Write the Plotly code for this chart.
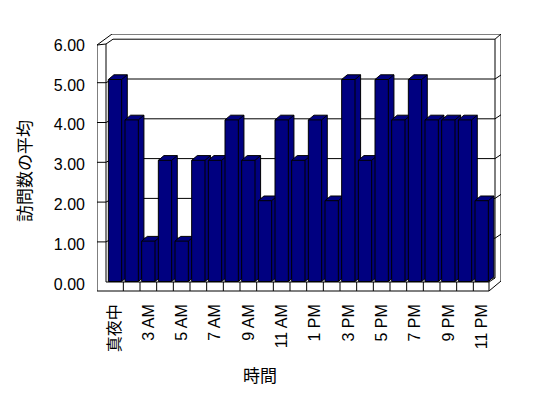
import plotly.graph_objects as go

# ---------------- data ----------------
categories = ["真夜中", "1 AM", "3 AM", "4 AM", "5 AM", "6 AM", "7 AM", "8 AM", "9 AM",
              "10 AM", "11 AM", "12 PM", "1 PM", "2 PM", "3 PM", "4 PM", "5 PM", "6 PM",
              "7 PM", "8 PM", "9 PM", "10 PM", "11 PM"]
visits = [5, 4, 1, 3, 1, 3, 3, 4, 3, 2, 4, 3, 4, 2, 5, 3, 5, 4, 5, 4, 4, 4, 2]
y_ticks = [0, 1, 2, 3, 4, 5, 6]
y_tick_labels = ["0.00", "1.00", "2.00", "3.00", "4.00", "5.00", "6.00"]
x_title = "時間"
y_title = "訪問数の平均"

# ---------------- geometry (pixels of the 548x398 canvas) ----------------
W, H = 548, 398
PL, PR, PT, PB = 97, 501, 34, 292          # plot area
X0PX, XSTEP = 115.0, 16.667                # centre of first category, px per category
Y0PX, YSTEP = 281.5, 40.4                  # pixel of value 0, px per unit


def px_x(p):
    return (p - X0PX) / XSTEP


def px_y(p):
    return (Y0PX - p) / YSTEP


NAVY = "#000080"
FONT = "Liberation Sans, Noto Sans CJK JP, sans-serif"
HW = 0.40                        # half bar width (category units)
DDX = 5.6 / XSTEP                # 3D depth offset of bars
DDY = 4.7 / YSTEP

fig = go.Figure()

# bars as 3D prisms, drawn left to right so each covers the previous side face
for i, v in enumerate(visits):
    x0, x1 = i - HW, i + HW
    xs = [x0, x0, x0 + DDX, x1 + DDX, x1 + DDX, x1, x0, None,
          x0, x1, x1, None, x1, x1 + DDX]
    ys = [0, v, v + DDY, v + DDY, DDY, 0, 0, None,
          v, v, 0, None, v, v + DDY]
    fig.add_trace(go.Scatter(x=xs, y=ys, mode="lines", fill="toself",
                             fillcolor=NAVY, line=dict(color="black", width=1),
                             hoverinfo="skip", showlegend=False))

# ---------------- walls / floor (decoration) ----------------
shapes = []


def poly(points):
    d = "M " + " L ".join(f"{px_x(a):.4f},{px_y(b):.4f}" for a, b in points)
    shapes.append(dict(type="path", path=d, xref="x", yref="y", layer="below",
                       line=dict(color="black", width=1)))


def G(v):   # back wall gridline pixel
    return 278 - 39.8 * v


def T(v):   # left wall tick pixel
    return 281.7 - 39.8 * v


# outer frame
poly([(97, 291), (97, 45), (112, 34), (501, 34), (501, 281), (489, 291), (97, 291)])
# inner edges
poly([(106, 282), (106, 44), (113, G(6)), (495, G(6)), (495, G(0)), (489, 282), (106, 282)])
poly([(97, 45), (106, 44)])
poly([(495, G(6)), (501, 34)])
poly([(489, 282), (489, 291)])
poly([(113, G(0)), (495, G(0))])
# floor cell dividers
for i in range(len(visits)):
    xp = X0PX + (i + 0.5) * XSTEP
    if xp < 489:
        shapes.append(dict(type="line", xref="x", yref="y", layer="below",
                           x0=i + 0.5, x1=i + 0.5, y0=px_y(282), y1=px_y(291),
                           line=dict(color="black", width=1)))
# gridlines
for v in y_ticks[1:-1]:
    poly([(97, T(v)), (106, T(v)), (113, G(v)), (495, G(v)), (501, G(v) - 4)])

# ---------------- layout ----------------
fig.update_layout(
    width=W, height=H, autosize=False,
    margin=dict(l=PL, r=W - PR, t=PT, b=H - PB, pad=0),
    paper_bgcolor="white", plot_bgcolor="white",
    font=dict(family=FONT, size=16, color="black"),
    shapes=shapes,
    xaxis=dict(range=[px_x(PL), px_x(PR)], showgrid=False, zeroline=False,
               showline=False, ticks="", tickangle=-90,
               tickvals=list(range(0, len(categories), 2)),
               ticktext=categories[::2], ticklabelstandoff=8,
               tickfont=dict(family=FONT, size=16, color="black"), fixedrange=True),
    yaxis=dict(range=[px_y(PB), px_y(PT)], showgrid=False, zeroline=False,
               showline=False, ticks="",
               tickvals=[px_y(284 - 39.8 * t) for t in y_ticks],
               ticktext=y_tick_labels, ticklabelstandoff=11,
               tickfont=dict(family=FONT, size=16, color="black"), fixedrange=True),
    annotations=[
        dict(text=y_title, textangle=-90, xref="paper", yref="paper",
             x=(25 - PL) / (PR - PL), y=(PB - 171) / (PB - PT),
             xanchor="center", yanchor="middle", showarrow=False,
             font=dict(family=FONT, size=17, color="black")),
        dict(text=x_title, xref="paper", yref="paper",
             x=(260 - PL) / (PR - PL), y=(PB - 376) / (PB - PT),
             xanchor="center", yanchor="middle", showarrow=False,
             font=dict(family=FONT, size=17, color="black")),
    ],
)

fig.write_html("out.html")
